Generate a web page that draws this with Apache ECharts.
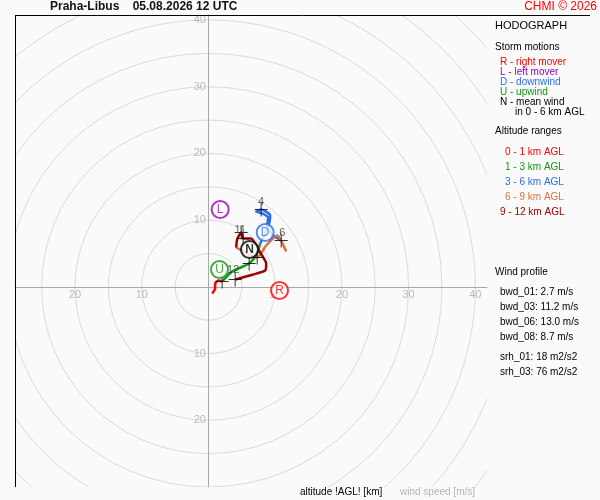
<!DOCTYPE html>
<html>
<head>
<meta charset="utf-8">
<title>Hodograph</title>
<script src="https://cdn.jsdelivr.net/npm/echarts@6/dist/echarts.min.js"></script>
<style>
  html, body { margin: 0; padding: 0; background: #fafafa; }
  #chart { width: 600px; height: 500px; }
</style>
</head>
<body>
<div id="chart"></div>
<script>
// Hodograph profile: height above ground [km], wind components u, v [m/s]
const heights = [0, 0.25, 0.5, 0.75, 1, 1.5, 2, 2.5, 3, 3.3, 3.6, 3.8, 4, 4.2, 4.4, 4.6, 5, 5.5, 6,
  6.5, 7, 7.5, 8, 8.5, 9, 9.5, 10, 10.5, 11, 11.25, 11.5, 11.65, 11.75, 11.85, 12];
const windU = [0.55, 1.0, 1.0, 1.45, 2.05, 3.55, 6.1, 7.15, 7.75, 8.35, 9.1, 9.25, 7.9, 7.15, 8.05, 8.95, 8.8, 9.55, 10.9,
  11.65, 10.3, 8.65, 7.3, 5.5, 4.15, 4.3, 4.9, 5.05, 5.2, 6.4, 7.75, 8.65, 8.5, 6.7, 4.0];
const windV = [-1.0, -0.25, 0.5, 0.95, 0.8, 2.3, 3.5, 4.7, 6.5, 7.7, 9.5, 10.7, 11.6, 11.3, 11.0, 10.4, 9.2, 7.85, 6.95,
  5.3, 7.7, 6.2, 4.4, 5.15, 5.9, 7.1, 8.15, 7.7, 7.25, 7.25, 5.15, 3.5, 2.45, 1.85, 1.1];

// altitude ranges
const rangeNames = ['0 - 1 km AGL', '1 - 3 km AGL', '3 - 6 km AGL', '6 - 9 km AGL', '9 - 12 km AGL'];
const rangeBottom = [0, 1, 3, 6, 9];
const rangeTop = [1, 3, 6, 9, 12];
const rangeColors = ['#ff0000', '#119911', '#2a6fe8', '#d9713f', '#a00000'];

// km marks with crosses, and which of them carry a label
const crossHeights = [1, 2, 4, 6, 8, 10, 11, 12];
const labeledHeights = [4, 6, 11, 12];

// storm motions
const stormLetters = ['R', 'L', 'D', 'U', 'N'];
const stormU = [10.65, 1.75, 8.5, 1.65, 6.15];
const stormV = [-0.55, 11.6, 8.15, 2.6, 5.6];
const stormColors = ['#ff0000', '#a000c0', '#2a6fe8', '#119911', '#000000'];
const stormNames = ['R - right mover', 'L - left mover', 'D - downwind', 'U - upwind', 'N - mean wind'];

// wind profile parameters
const profileNames = ['bwd_01', 'bwd_03', 'bwd_06', 'bwd_08', 'srh_01', 'srh_03'];
const profileValues = ['2.7', '11.2', '13.0', '8.7', '18', '76'];
const profileUnits = ['m/s', 'm/s', 'm/s', 'm/s', 'm2/s2', 'm2/s2'];

// speed rings and axis labels
const ringRadii = [5, 10, 15, 20, 25, 30, 35, 40, 45, 50, 55, 60];
const xTickValues = [-20, -10, 10, 20, 30, 40];
const yTickValues = [-20, -10, 10, 20, 30, 40];

const chart = echarts.init(document.getElementById('chart'));

function pointAt(h) {
  const i = heights.indexOf(h);
  return [windU[i], windV[i]];
}

const pathSeries = rangeBottom.map((lo, k) => ({
  name: rangeNames[k],
  type: 'line',
  data: heights.map((h, i) => [windU[i], windV[i], h]).filter(p => p[2] >= lo && p[2] <= rangeTop[k]),
  showSymbol: false,
  smooth: 0.2,
  clip: true,
  lineStyle: { color: rangeColors[k], width: 2.5 },
  z: 5,
  silent: true
}));

const labelOffsets = { 4: [0, -8], 6: [1, -8], 11: [-3, -9], 12: [-2, -10] };

const font = '"Liberation Sans", Arial, sans-serif';

function txt(text, x, y, size, color) {
  return {
    type: 'text',
    x: x, y: y,
    z: 100,
    silent: true,
    style: {
      text: text, fill: color, font: size + 'px ' + font,
      textAlign: 'left', textVerticalAlign: 'middle'
    }
  };
}

const graphics = [
  { type: 'line', z: 100, silent: true, shape: { x1: 15, y1: 15.5, x2: 590, y2: 15.5 }, style: { stroke: '#000', lineWidth: 1 } },
  { type: 'line', z: 100, silent: true, shape: { x1: 15.5, y1: 15, x2: 15.5, y2: 487 }, style: { stroke: '#000', lineWidth: 1 } },
  txt('Praha-Libus    05.08.2026 12 UTC', 50, 7, 12, '#111'),
  txt('HODOGRAPH', 495, 26, 11, '#000'),
  txt('Storm motions', 495, 47, 10, '#000'),
  txt('in 0 - 6 km AGL', 515, 112, 10, '#000'),
  txt('Altitude ranges', 495, 131, 10, '#000'),
  txt('Wind profile', 495, 272, 10, '#000'),
  txt('altitude !AGL! [km]', 300, 492, 10, '#000'),
  txt('wind speed [m/s]', 400, 492, 10, '#b4b4b4')
];
graphics[2].style.font = 'bold 12px ' + font;
const chmi = txt('CHMI © 2026', 597, 7, 12, '#ff0000');
chmi.style.textAlign = 'right';
graphics.push(chmi);
stormNames.forEach((n, i) => graphics.push(txt(n, 500, 62 + i * 10, 10, stormColors[i])));
rangeNames.forEach((n, i) => graphics.push(txt(n, i === 4 ? 500 : 505, 152 + i * 15, 10, rangeColors[i])));
profileNames.forEach((n, i) => {
  const y = i < 4 ? 292 + i * 15 : 357 + (i - 4) * 15;
  graphics.push(txt(n + ': ' + profileValues[i] + ' ' + profileUnits[i], 500, y, 10, '#000'));
});

const tickLabel = { show: true, formatter: p => String(Math.abs(p.value[0] || p.value[1])), color: '#aaa', fontSize: 11 };

const option = {
  backgroundColor: '#fafafa',
  animation: false,
  textStyle: { fontFamily: font },
  grid: { left: 15, top: 15, width: 472, height: 472, show: true, backgroundColor: '#fafafa', borderWidth: 0 },
  xAxis: {
    type: 'value', min: -29, max: 41.75, z: 3,
    axisLine: { onZero: true, lineStyle: { color: '#a8a8a8', width: 1 } },
    axisTick: { show: false },
    splitLine: { show: false },
    axisLabel: { show: false }
  },
  yAxis: {
    type: 'value', min: -30, max: 40.75, z: 3,
    axisLine: { onZero: true, lineStyle: { color: '#a8a8a8', width: 1 } },
    axisTick: { show: false },
    splitLine: { show: false },
    axisLabel: { show: false }
  },
  graphic: { elements: graphics },
  series: [
    {
      type: 'custom',
      name: 'rings',
      silent: true,
      clip: true,
      z: 1,
      data: ringRadii.map(r => [0, 0, r]),
      encode: { x: 0, y: 1 },
      renderItem: function (params, api) {
        const c = api.coord([0, 0]);
        const r = api.size([api.value(2), 0])[0];
        const cs = params.coordSys;
        return {
          type: 'group',
          clipPath: { type: 'rect', shape: { x: cs.x, y: cs.y, width: cs.width, height: cs.height } },
          children: [{
            type: 'circle',
            shape: { cx: c[0], cy: c[1], r: r },
            style: { fill: 'none', stroke: '#dadada', lineWidth: 1 }
          }]
        };
      }
    },
    {
      type: 'scatter',
      name: 'x ticks',
      silent: true,
      z: 4,
      symbol: 'circle',
      symbolSize: 1,
      itemStyle: { color: 'rgba(0,0,0,0)' },
      data: xTickValues.map(v => [v, 0]),
      label: Object.assign({ position: 'bottom', distance: 2 }, tickLabel)
    },
    {
      type: 'scatter',
      name: 'y ticks',
      silent: true,
      z: 4,
      symbol: 'circle',
      symbolSize: 1,
      itemStyle: { color: 'rgba(0,0,0,0)' },
      data: yTickValues.map(v => [0, v]),
      label: Object.assign({ position: 'left', distance: 2 }, tickLabel)
    },
    ...pathSeries,
    {
      type: 'scatter',
      name: 'km marks',
      silent: true,
      z: 6,
      symbol: 'path://M0,6.5h13v1h-13zM6,0h1v14h-1z',
      symbolSize: [13, 14],
      itemStyle: { color: '#000' },
      data: crossHeights.map(h => {
        const p = pointAt(h);
        const lab = labeledHeights.indexOf(h) >= 0;
        return {
          value: [p[0], p[1], h],
          label: {
            show: lab, formatter: String(h), position: 'inside',
            offset: labelOffsets[h] || [0, -8], color: '#333', fontSize: 11
          }
        };
      })
    },
    {
      type: 'scatter',
      name: 'storm motions',
      silent: true,
      z: 7,
      symbol: 'circle',
      symbolSize: 17,
      data: stormLetters.map((s, i) => ({
        value: [stormU[i], stormV[i]],
        itemStyle: { color: '#fff', borderColor: stormColors[i], borderWidth: 2 },
        label: {
          show: true, position: 'inside', formatter: s, color: stormColors[i],
          fontSize: 12, fontWeight: s === 'N' ? 'bold' : 'normal'
        }
      }))
    }
  ]
};

chart.setOption(option);
window.addEventListener('resize', () => chart.resize());
</script>
</body>
</html>
